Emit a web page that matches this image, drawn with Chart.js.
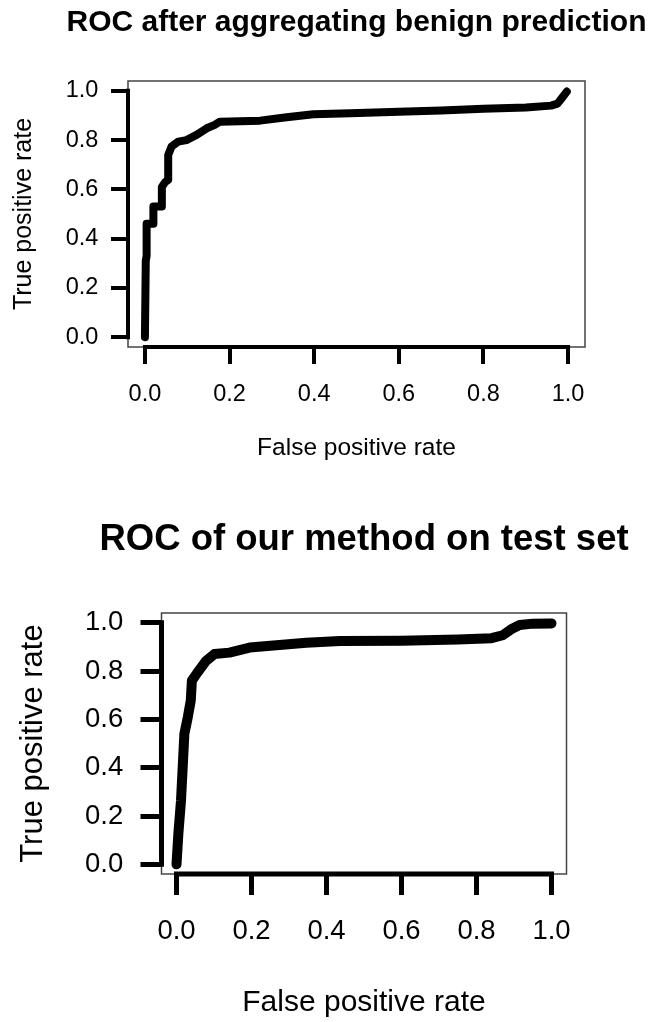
<!DOCTYPE html>
<html>
<head>
<meta charset="utf-8">
<script src="https://cdn.jsdelivr.net/npm/chart.js@4.4.1/dist/chart.umd.min.js"></script>
<style>
  html, body { margin: 0; padding: 0; background: #fff; }
  #page { position: relative; width: 648px; height: 1022px; overflow: hidden; background: #fff; }
  canvas { position: absolute; left: 0; }
</style>
</head>
<body>
<div id="page">
  <canvas id="c1" width="713" height="480" style="top:0px"></canvas>
  <canvas id="c2" width="728" height="532" style="top:490px"></canvas>
</div>
<script>
// ---- data ----
const tickValues = [0, 0.2, 0.4, 0.6, 0.8, 1.0];

const title1 = "ROC after aggregating benign prediction";
const fpr1 = [0, 0.002, 0.004, 0.004, 0.02, 0.02, 0.04, 0.04, 0.048, 0.055, 0.055, 0.063, 0.079, 0.098, 0.122, 0.146, 0.165, 0.177, 0.272, 0.335, 0.398, 0.485, 0.6, 0.7, 0.8, 0.9, 0.96, 0.975, 0.985, 0.997];
const tpr1 = [0, 0.31, 0.33, 0.46, 0.46, 0.53, 0.53, 0.61, 0.63, 0.638, 0.74, 0.774, 0.794, 0.8, 0.821, 0.848, 0.862, 0.875, 0.879, 0.893, 0.905, 0.909, 0.915, 0.92, 0.927, 0.932, 0.94, 0.948, 0.97, 0.997];

const title2 = "ROC of our method on test set";
const fpr2 = [0, 0.005, 0.012, 0.021, 0.03, 0.038, 0.041, 0.056, 0.079, 0.101, 0.141, 0.195, 0.346, 0.436, 0.6, 0.75, 0.84, 0.87, 0.895, 0.915, 0.95, 1.0];
const tpr2 = [0, 0.127, 0.264, 0.54, 0.608, 0.677, 0.76, 0.794, 0.842, 0.87, 0.876, 0.897, 0.917, 0.924, 0.925, 0.93, 0.936, 0.948, 0.975, 0.99, 0.996, 0.997];

const xLabel = "False positive rate";
const yLabel = "True positive rate";

const FAMILY = "'Liberation Sans', Arial, Helvetica, sans-serif";

// R-style box + axis lines spanning only the tick range
const rAxes = {
  id: 'rAxes',
  afterDraw(chart, args, opts) {
    const { ctx, chartArea: a, scales: { x, y } } = chart;
    ctx.save();
    ctx.strokeStyle = '#444';
    ctx.lineWidth = opts.boxWidth;
    ctx.strokeRect(a.left, a.top, a.right - a.left, a.bottom - a.top);
    ctx.strokeStyle = '#000';
    ctx.lineWidth = opts.axisWidth;
    ctx.lineCap = 'butt';
    ctx.beginPath();
    const t0 = tickValues[0], t1 = tickValues[tickValues.length - 1];
    ctx.moveTo(x.getPixelForValue(t0) - opts.axisWidth / 2, a.bottom);
    ctx.lineTo(x.getPixelForValue(t1) + opts.axisWidth / 2, a.bottom);
    ctx.moveTo(a.left, y.getPixelForValue(t0) + opts.axisWidth / 2);
    ctx.lineTo(a.left, y.getPixelForValue(t1) - opts.axisWidth / 2);
    ctx.stroke();
    ctx.restore();
  }
};

function makeChart(id, cfg) {
  const pts = cfg.fpr.map((v, i) => ({ x: v, y: cfg.tpr[i] }));
  const setTicks = s => { s.ticks = tickValues.map(v => ({ value: v })); };
  return new Chart(document.getElementById(id), {
    type: 'line',
    data: {
      datasets: [{
        data: pts,
        xAxisID: 'x',
        yAxisID: 'y',
        borderColor: '#000',
        borderWidth: cfg.lineW,
        borderCapStyle: 'round',
        borderJoinStyle: 'round',
        pointRadius: 0,
        tension: 0,
        fill: false,
        clip: false
      }]
    },
    plugins: [rAxes],
    options: {
      responsive: false,
      animation: false,
      devicePixelRatio: 1,
      layout: { padding: 0 },
      plugins: {
        legend: { display: false },
        tooltip: { enabled: false },
        title: {
          display: true,
          text: cfg.title,
          color: '#000',
          font: { family: FAMILY, size: cfg.titleSize, weight: 'bold' },
          padding: { top: cfg.titlePadTop, bottom: cfg.titlePadBottom }
        },
        rAxes: { boxWidth: cfg.boxW, axisWidth: cfg.axisW }
      },
      scales: {
        x: {
          type: 'linear',
          min: -0.04, max: 1.04,
          afterBuildTicks: setTicks,
          afterFit: s => { s.height = cfg.xAxisH; },
          border: { display: false },
          grid: {
            drawOnChartArea: false, drawTicks: true,
            tickLength: cfg.tickLen, tickWidth: cfg.axisW, tickColor: '#000',
            lineWidth: cfg.axisW, color: '#000'
          },
          ticks: {
            autoSkip: false, maxRotation: 0, minRotation: 0,
            color: '#000', padding: cfg.xTickPad,
            font: { family: FAMILY, size: cfg.tickSize },
            callback: v => Number(v).toFixed(1)
          },
          title: {
            display: true, text: xLabel, color: '#000',
            font: { family: FAMILY, size: cfg.labSize },
            padding: { top: 0, bottom: cfg.xTitlePadBottom }
          }
        },
        y: {
          type: 'linear',
          position: 'left',
          min: -0.04, max: 1.04,
          afterBuildTicks: setTicks,
          afterFit: s => { s.width = cfg.yAxisW; },
          border: { display: false },
          grid: {
            drawOnChartArea: false, drawTicks: true,
            tickLength: cfg.tickLen, tickWidth: cfg.axisW, tickColor: '#000',
            lineWidth: cfg.axisW, color: '#000'
          },
          ticks: {
            autoSkip: false,
            color: '#000', padding: cfg.yTickPad,
            font: { family: FAMILY, size: cfg.tickSize },
            callback: v => Number(v).toFixed(1)
          },
          title: {
            display: true, text: yLabel, color: '#000',
            font: { family: FAMILY, size: cfg.ySize },
            padding: { top: cfg.yTitlePadTop, bottom: 0 }
          }
        },
        // empty right-hand margin so the title centres over the plot box
        yMargin: {
          type: 'linear',
          position: 'right',
          display: true,
          min: 0, max: 1,
          afterFit: s => { s.width = cfg.rightW; },
          border: { display: false },
          grid: { display: false, drawTicks: false },
          ticks: { display: false },
          title: { display: false }
        }
      }
    }
  });
}

makeChart('c1', {
  fpr: fpr1, tpr: tpr1, title: title1,
  lineW: 8, axisW: 4, boxW: 1.5,
  rightW: 128,
  titleSize: 30, titlePadTop: 5.2, titlePadBottom: 39.8,
  xAxisH: 133, yAxisW: 128,
  tickLen: 17, tickSize: 23.5, labSize: 24.5, ySize: 25,
  xTickPad: 16, yTickPad: 12.7,
  xTitlePadBottom: 16.9, yTitlePadTop: 9
});

makeChart('c2', {
  fpr: fpr2, tpr: tpr2, title: title2,
  lineW: 10, axisW: 5, boxW: 1.5,
  rightW: 161.5,
  titleSize: 36.5, titlePadTop: 28.1, titlePadBottom: 51.1,
  xAxisH: 148, yAxisW: 161.5,
  tickLen: 21, tickSize: 27.5, labSize: 30, ySize: 31,
  xTickPad: 19.5, yTickPad: 17.2,
  xTitlePadBottom: 1.5, yTitlePadTop: 14.5
});
</script>
</body>
</html>
